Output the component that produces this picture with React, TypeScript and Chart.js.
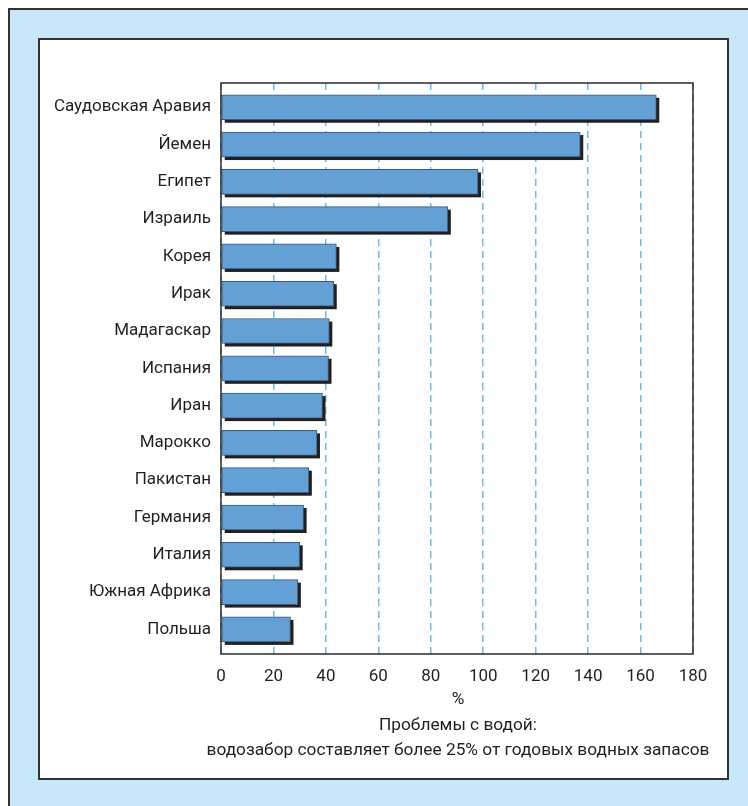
import React, { useEffect, useRef } from "react";
import { Chart, registerables } from "chart.js";

Chart.register(...registerables);

const categories: string[] = [
  "Саудовская Аравия",
  "Йемен",
  "Египет",
  "Израиль",
  "Корея",
  "Ирак",
  "Мадагаскар",
  "Испания",
  "Иран",
  "Марокко",
  "Пакистан",
  "Германия",
  "Италия",
  "Южная Африка",
  "Польша",
];

const values: number[] = [166, 137, 98, 86.5, 44, 43, 41.3, 41, 38.7, 36.6, 33.5, 31.5, 30, 29.3, 26.5];

const xTicks: number[] = [0, 20, 40, 60, 80, 100, 120, 140, 160, 180];

const axisTitle: string[] = [
  "%",
  "Проблемы с водой:",
  "водозабор составляет более 25% от годовых водных запасов",
];

const FONT = "Roboto, 'Liberation Sans', sans-serif";

const shadowPlugin = {
  id: "barShadow",
  beforeDatasetsDraw(chart: any) {
    const ctx = chart.ctx;
    const meta = chart.getDatasetMeta(0);
    ctx.save();
    ctx.fillStyle = "#231f20";
    meta.data.forEach((bar: any) => {
      const p = bar.getProps(["x", "y", "base", "height"], true);
      ctx.fillRect(p.base + 3, p.y - p.height / 2 + 3, p.x - p.base, p.height);
    });
    ctx.restore();
  },
};

const framePlugin = {
  id: "plotFrame",
  afterDraw(chart: any) {
    const { ctx, chartArea } = chart;
    ctx.save();
    ctx.strokeStyle = "#2b2b2b";
    ctx.lineWidth = 1.5;
    ctx.strokeRect(chartArea.left, chartArea.top, chartArea.right - chartArea.left, chartArea.bottom - chartArea.top);
    // axis title lines, centred under the plot area
    ctx.fillStyle = "#231f20";
    ctx.font = `17.3px ${FONT}`;
    ctx.textAlign = "center";
    ctx.textBaseline = "middle";
    const cx = (chartArea.left + chartArea.right) / 2 + 1;
    axisTitle.forEach((line, i) => {
      ctx.fillText(line, cx, chartArea.bottom + 46 + i * 25.5);
    });
    ctx.restore();
  },
};

export default function App() {
  const ref = useRef<HTMLCanvasElement | null>(null);

  useEffect(() => {
    document.documentElement.style.overflow = "hidden";
    document.body.style.overflow = "hidden";
    if (!ref.current) return;
    Chart.defaults.font.family = FONT;
    const chart = new Chart(ref.current, {
      type: "bar",
      data: {
        datasets: [
          {
            data: values.map((v, i) => ({ x: v, y: i })),
            backgroundColor: "#62a0d6",
            borderColor: "#3d5a78",
            borderWidth: 1,
            borderSkipped: false,
            barThickness: 25,
          },
        ],
      },
      options: {
        indexAxis: "y",
        animation: false,
        responsive: false,
        maintainAspectRatio: false,
        layout: { padding: { top: 43, right: 34, left: 0, bottom: 0 } },
        plugins: { legend: { display: false }, tooltip: { enabled: false } },
        scales: {
          x: {
            type: "linear",
            min: 0,
            max: 180,
            offset: false,
            afterFit: (s: any) => {
              s.height = 124;
            },
            afterBuildTicks: (s: any) => {
              s.ticks = xTicks.map((v) => ({ value: v }));
            },
            grid: {
              color: "#6cbbe8",
              lineWidth: 1.5,
              drawTicks: false,
            },
            border: { display: false, dash: [7, 5] },
            ticks: {
              color: "#231f20",
              font: { size: 17 },
              padding: 13,
            },
            title: { display: false },
          },
          y: {
            type: "linear",
            reverse: true,
            offset: false,
            min: -0.65,
            max: 14.66,
            afterFit: (s: any) => {
              s.width = 181;
            },
            afterBuildTicks: (s: any) => {
              s.ticks = categories.map((_, i) => ({ value: i }));
            },
            grid: { display: false, drawTicks: false },
            border: { display: false },
            ticks: {
              color: "#231f20",
              font: { size: 17 },
              padding: 10,
              autoSkip: false,
              callback: (v: any) => categories[v as number] ?? "",
            },
          },
        },
      },
      plugins: [shadowPlugin, framePlugin],
    } as any);
    return () => chart.destroy();
  }, []);

  return (
    <div
      style={{
        position: "fixed",
        left: 8,
        top: 8,
        width: 780,
        height: 830,
        boxSizing: "border-box",
        borderTop: "2px solid #333",
        borderLeft: "2px solid #333",
        background: "#c6e8f8",
      }}
    >
      <div
        style={{
          position: "absolute",
          left: 28,
          top: 28,
          width: 691,
          height: 742,
          boxSizing: "border-box",
          border: "2px solid #333",
          background: "#ffffff",
        }}
      >
        <canvas ref={ref} width={687} height={738} style={{ position: "absolute", left: 0, top: 0, width: 687, height: 738 }} />
      </div>
    </div>
  );
}
